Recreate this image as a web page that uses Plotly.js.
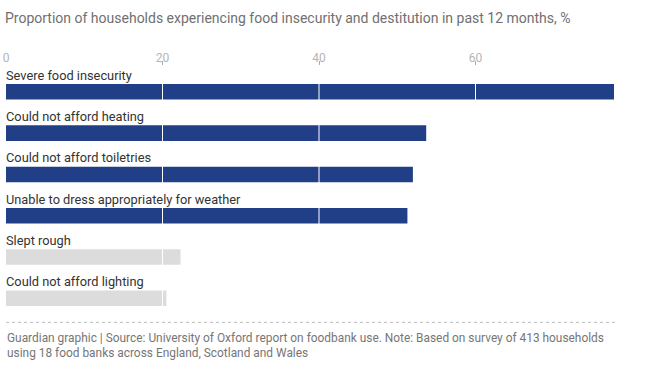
<!DOCTYPE html>
<html>
<head>
<meta charset="utf-8">
<script src="https://cdn.plot.ly/plotly-3.0.1.min.js"></script>
<style>html,body{margin:0;padding:0;background:#fff;}#chart{width:650px;height:372px;}</style>
</head>
<body>
<div id="chart"></div>
<script>
const categories = ["Severe food insecurity", "Could not afford heating", "Could not afford toiletries", "Unable to dress appropriately for weather", "Slept rough", "Could not afford lighting"];
const values = [77.7, 53.7, 52, 51.3, 22.3, 20.5];
const highlighted = [true, true, true, true, false, false];
const tickVals = [0, 20, 40, 60];
const tickText = ["0", "20", "40", "60"];
const titleText = "Proportion of households experiencing food insecurity and destitution in past 12 months, %";
const sourceText = "Guardian graphic | Source: University of Oxford report on foodbank use. Note: Based on survey of 413 households<br>using 18 food banks across England, Scotland and Wales";

const FONT = "Roboto, 'Open Sans', sans-serif";
const BLUE = "#213f86";
const GREY = "#dcdcdc";

const trace = {
  type: "bar",
  orientation: "h",
  x: values,
  y: categories,
  marker: {color: highlighted.map(h => h ? BLUE : GREY)},
  hoverinfo: "skip"
};

const annotations = categories.map(c => ({
  xref: "x", yref: "y", x: 0, y: c,
  xanchor: "left", yanchor: "bottom", yshift: 7, xshift: -2,
  text: c, showarrow: false,
  font: {family: FONT, size: 12.8, color: "#333333"}
}));
annotations.push({
  xref: "paper", yref: "paper", x: -0.002, y: -0.038,
  xanchor: "left", yanchor: "top", align: "left",
  text: sourceText, showarrow: false,
  font: {family: FONT, size: 11.9, color: "#767676"}
});

const shapes = tickVals.filter(v => v > 0).map(v => ({
  type: "line", layer: "above", xref: "x", yref: "y",
  x0: v, x1: v, y0: -0.25, y1: 5.5,
  line: {color: "#ffffff", width: 1}
}));
shapes.push({
  type: "line", xref: "paper", yref: "paper",
  x0: 0, x1: 0.976, y0: -0.013, y1: -0.013,
  line: {color: "#bbbbbb", width: 1, dash: "dot"}
});

const layout = {
  width: 650, height: 372,
  margin: {l: 5.5, r: 18, t: 61, b: 53.4, pad: 0},
  paper_bgcolor: "#ffffff", plot_bgcolor: "#ffffff",
  showlegend: false,
  bargap: 0.624,
  title: {
    text: titleText, xref: "container", yref: "container",
    x: 5 / 650, xanchor: "left", y: 1 - 18 / 372, yanchor: "middle",
    font: {family: FONT, size: 14, color: "#707070"}
  },
  xaxis: {
    side: "top", range: [0, 80], showgrid: false, zeroline: false, showline: false,
    tickvals: tickVals, ticktext: tickText,
    ticks: "inside", ticklen: 4, tickcolor: "#aaaaaa", tickwidth: 1,
    ticklabelstandoff: -4,
    tickfont: {family: FONT, size: 12, color: "#b5b5b5"}
  },
  yaxis: {
    type: "category", categoryorder: "array", categoryarray: categories,
    range: [5.5, -0.746], showticklabels: false, showgrid: false, zeroline: false, showline: false, ticks: ""
  },
  annotations: annotations,
  shapes: shapes
};

Plotly.newPlot("chart", [trace], layout, {displayModeBar: false, staticPlot: true});
</script>
</body>
</html>
